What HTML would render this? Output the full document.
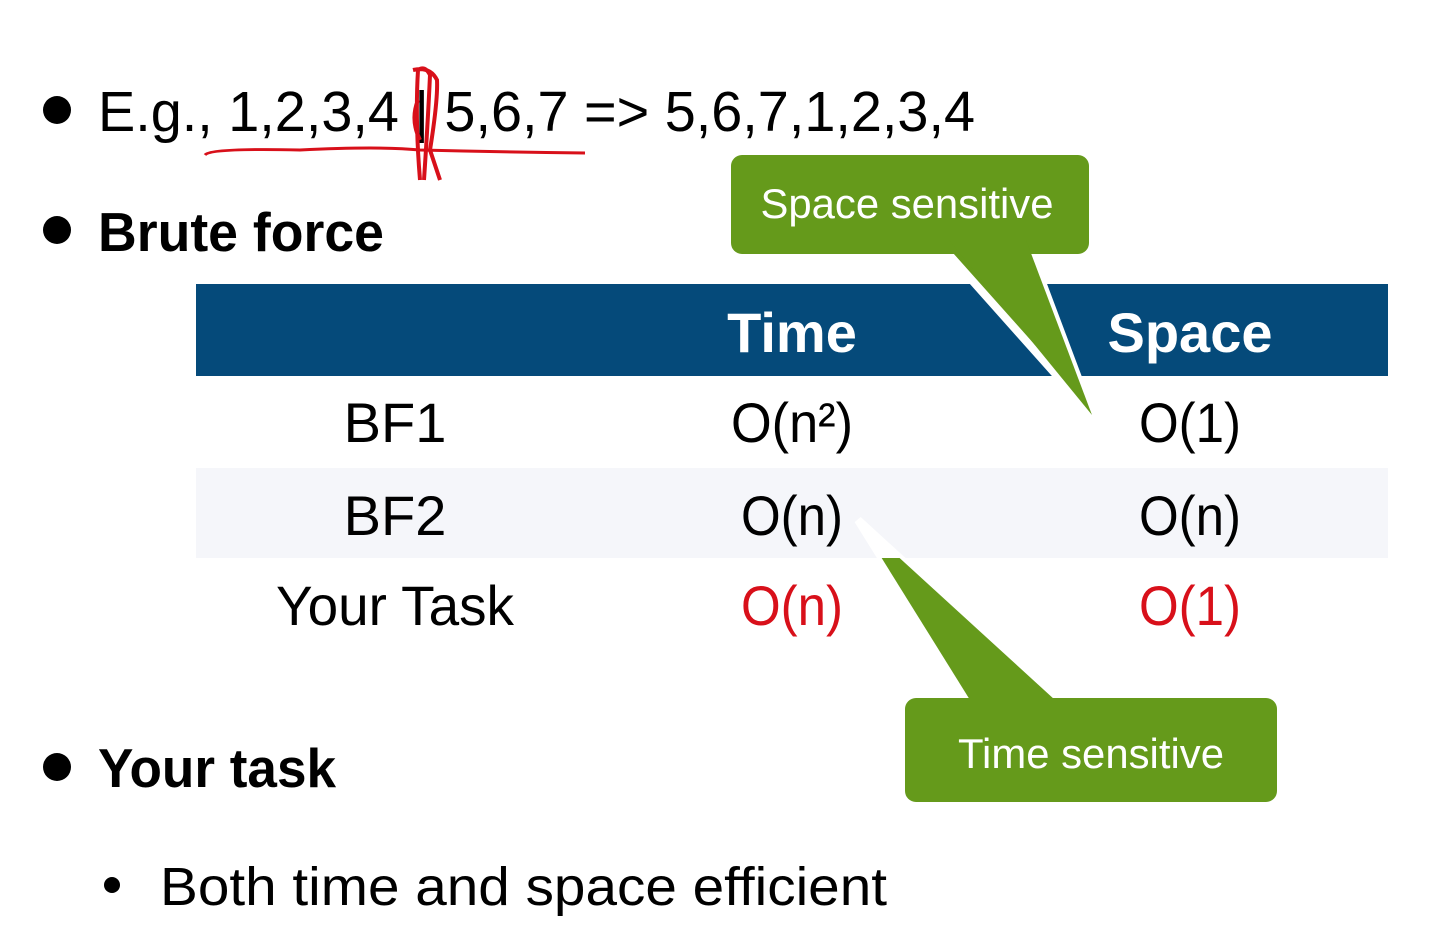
<!DOCTYPE html>
<html><head><meta charset="utf-8"><style>
html,body{margin:0;padding:0;background:#fff;}
svg{display:block;}
text{font-family:"Liberation Sans",Arial,sans-serif;}
</style></head><body>
<svg width="1436" height="928" viewBox="0 0 1436 928" xmlns="http://www.w3.org/2000/svg">
<rect width="1436" height="928" fill="#fff"/>
<circle cx="57" cy="110" r="14" fill="#000"/>
<circle cx="57" cy="230" r="14" fill="#000"/>
<circle cx="57" cy="767" r="14" fill="#000"/>
<circle cx="112" cy="885" r="8" fill="#000"/>
<text x="98" y="131" font-size="57" textLength="877" lengthAdjust="spacingAndGlyphs" fill="#000">E.g., 1,2,3,4 | 5,6,7 =&gt; 5,6,7,1,2,3,4</text>
<text x="98" y="251" font-size="55" font-weight="bold" textLength="286" lengthAdjust="spacingAndGlyphs" fill="#000">Brute force</text>
<text x="98" y="787" font-size="55" font-weight="bold" textLength="238" lengthAdjust="spacingAndGlyphs" fill="#000">Your task</text>
<text x="160" y="905" font-size="54" textLength="727" lengthAdjust="spacingAndGlyphs" fill="#000">Both time and space efficient</text>
<path d="M205 155 Q210 148 300 150 Q380 146 420 150 Q500 152 585 153" stroke="#d8101a" stroke-width="3" fill="none"/>
<path d="M420 180 Q415 120 418 70 Q425 65 430 75 Q428 120 424 180 M413 70 Q430 66 437 80 Q438 100 430 150 M430 150 L440 180 M418 100 Q410 120 420 140" stroke="#d8101a" stroke-width="4" fill="none"/>
<rect x="196" y="284" width="1192" height="92" fill="#054a7a"/>
<rect x="196" y="468" width="1192" height="90" fill="#f5f6fa"/>
<text x="792" y="352" font-size="56" font-weight="bold" fill="#fff" text-anchor="middle">Time</text>
<text x="1190" y="352" font-size="56" font-weight="bold" fill="#fff" text-anchor="middle">Space</text>
<g font-size="56" fill="#000" text-anchor="middle">
<text x="395" y="442">BF1</text>
<text x="792" y="442" textLength="122" lengthAdjust="spacingAndGlyphs">O(n²)</text>
<text x="1190" y="442" textLength="102" lengthAdjust="spacingAndGlyphs">O(1)</text>
<text x="395" y="535">BF2</text>
<text x="792" y="535" textLength="102" lengthAdjust="spacingAndGlyphs">O(n)</text>
<text x="1190" y="535" textLength="102" lengthAdjust="spacingAndGlyphs">O(n)</text>
<text x="395" y="625" textLength="238" lengthAdjust="spacingAndGlyphs">Your Task</text>
<text x="792" y="625" fill="#d8101a" textLength="102" lengthAdjust="spacingAndGlyphs">O(n)</text>
<text x="1190" y="625" fill="#d8101a" textLength="102" lengthAdjust="spacingAndGlyphs">O(1)</text>
</g>
<polygon points="945,250 1092,415 1030,250" fill="#659a1b" stroke="#fff" stroke-width="8" stroke-linejoin="miter"/>
<rect x="731" y="155" width="358" height="99" rx="11" fill="#659a1b"/>
<polygon points="949,240 1092,415 1026,240" fill="#659a1b"/>
<text x="907" y="218" font-size="42" fill="#fff" text-anchor="middle" textLength="293" lengthAdjust="spacingAndGlyphs">Space sensitive</text>
<polygon points="970,700 858,520 1055,700" fill="#fff" stroke="#fff" stroke-width="8"/>
<clipPath id="c"><rect x="0" y="558" width="1436" height="370"/></clipPath>
<polygon points="970,700 858,520 1055,700" fill="#659a1b" clip-path="url(#c)"/>
<rect x="905" y="698" width="372" height="104" rx="11" fill="#659a1b"/>
<text x="1091" y="768" font-size="42" fill="#fff" text-anchor="middle" textLength="266" lengthAdjust="spacingAndGlyphs">Time sensitive</text>
</svg>
</body></html>
